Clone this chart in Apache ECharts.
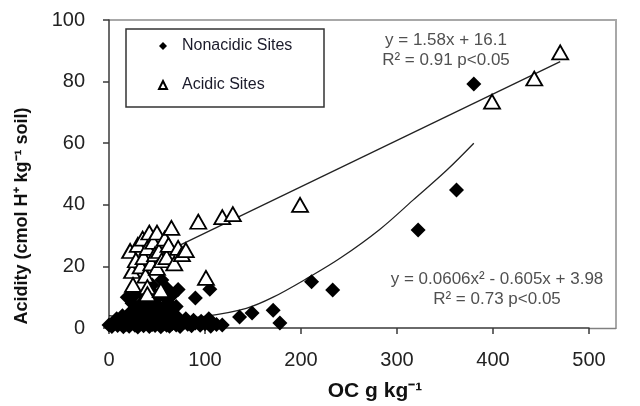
<!DOCTYPE html>
<html>
<head>
<meta charset="utf-8">
<script src="https://cdn.jsdelivr.net/npm/echarts@6/dist/echarts.min.js"></script>
<style>
  html, body { margin: 0; padding: 0; background: #fff; }
  #chart { width: 640px; height: 406px; }
</style>
</head>
<body>
<div id="chart"></div>
<script>
// Organic carbon (g/kg) vs. acidity (cmol H+ /kg soil)

// Nonacidic sites
const nonacidicOC = [
  0, 3, 6, 9, 12, 15, 18, 21, 24, 27, 30, 33, 36, 39, 42, 45, 48, 51, 54, 57, 60, 63, 66, 70, 74, 78, 82, 86, 90, 95, 100, 106, 112,
  8, 14, 18, 22, 26, 30, 34, 38, 42, 46, 50, 54, 58, 62, 66, 70, 74, 80, 88, 96, 104,
  19, 24, 28, 32, 36, 40, 44, 48, 52, 55, 58, 62, 66, 70, 72, 45, 60,
  90, 105, 118, 136, 149, 171, 178, 211, 233, 322, 362, 380
];
const nonacidicAcidity = [
  1.0, 0.5, 1.5, 0.8, 1.8, 0.4, 1.2, 0.6, 1.6, 0.9, 0.3, 1.4, 0.7, 1.9, 0.5, 1.1, 0.8, 1.7, 0.4, 1.3, 0.9, 0.6, 1.5, 1.0, 0.5, 1.8, 1.2, 0.7, 1.6, 0.9, 1.4, 0.6, 1.1,
  3.0, 4.0, 2.5, 5.0, 3.5, 6.0, 4.0, 5.5, 3.0, 6.0, 4.5, 2.8, 5.0, 3.5, 6.0, 4.0, 2.5, 3.0, 2.5, 2.2, 3.0,
  10.0, 8.0, 11.0, 7.5, 10.5, 8.0, 12.0, 9.0, 7.0, 15.6, 10.0, 8.0, 10.7, 7.0, 12.5, 14.0, 13.0,
  9.7, 12.6, 1.0, 3.6, 4.9, 5.8, 1.6, 15.0, 12.3, 31.8, 44.8, 79.2
];

// Acidic sites
const acidicOC = [
  22, 24, 25, 28, 30, 33, 35, 36, 38, 40, 40, 40, 42, 44, 46, 48, 50, 50, 52, 54, 55, 58, 60, 62, 65, 68, 72, 76, 80,
  93, 101, 118, 129, 199, 399, 443, 470
];
const acidicAcidity = [
  25.0, 18.5, 14.0, 22.0, 27.0, 20.0, 29.0, 23.0, 17.0, 13.3, 26.0, 11.0, 31.0, 21.0, 28.0, 24.0, 31.0, 19.5, 25.0, 12.3, 22.0, 29.0, 23.0, 27.0, 32.5, 21.0, 26.0, 24.0, 25.3,
  34.5, 16.3, 36.0, 37.0, 40.0, 73.5, 81.0, 89.5
];

// Fitted trend lines (sampled along each curve)
const linearFitOC = [20, 470];
const linearFitAcidity = [18.8, 86.5];
const quadFitOC = [0, 50, 100, 143, 171, 209, 241, 282, 317, 352, 380];
const quadFitAcidity = [4.0, 2.6, 3.8, 6.4, 10.0, 16.6, 22.7, 32.0, 41.6, 51.3, 60.0];

// Axis ticks
const xTicks = [0, 100, 200, 300, 400, 500];
const yTicks = [0, 20, 40, 60, 80, 100];

// Equation annotations
const linearEquation = ['y = 1.58x + 16.1', 'R² = 0.91 p<0.05'];
const quadEquation = ['y = 0.0606x² - 0.605x + 3.98', 'R² = 0.73 p<0.05'];

const pairs = (xs, ys) => xs.map((x, i) => [x, ys[i]]);

const FONT = '"Liberation Sans", Arial, sans-serif';
const chart = echarts.init(document.getElementById('chart'), null, { renderer: 'canvas' });

chart.setOption({
  animation: false,
  backgroundColor: '#fff',
  grid: { left: 109, right: 51, top: 20, bottom: 78 },
  xAxis: {
    type: 'value',
    min: xTicks[0], max: xTicks[xTicks.length - 1], interval: xTicks[1] - xTicks[0],
    splitLine: { show: false },
    axisLine: { show: true, lineStyle: { color: '#3a3a3a', width: 1.5 } },
    axisTick: { show: true, length: 6, lineStyle: { color: '#3a3a3a', width: 1.5 } },
    axisLabel: { fontFamily: FONT, fontSize: 20, color: '#222', margin: 22 }
  },
  yAxis: {
    type: 'value',
    min: yTicks[0], max: yTicks[yTicks.length - 1], interval: yTicks[1] - yTicks[0],
    splitLine: { show: false },
    axisLine: { show: true, lineStyle: { color: '#3a3a3a', width: 1.5 } },
    axisTick: { show: true, length: 6, lineStyle: { color: '#3a3a3a', width: 1.5 } },
    axisLabel: { fontFamily: FONT, fontSize: 20, color: '#222', margin: 24 }
  },
  legend: {
    orient: 'vertical',
    left: 153, top: 32,
    itemWidth: 8, itemHeight: 8,
    itemGap: 21,
    textStyle: { fontFamily: FONT, fontSize: 16, color: '#1a1a2a', lineHeight: 18, padding: [0, 0, 0, 10] },
    data: ['Nonacidic Sites', 'Acidic Sites']
  },
  series: [
    {
      name: 'linear fit', type: 'line', data: pairs(linearFitOC, linearFitAcidity),
      showSymbol: false, silent: true, z: 1,
      lineStyle: { color: '#222', width: 1.3 }
    },
    {
      name: 'quadratic fit', type: 'line', data: pairs(quadFitOC, quadFitAcidity),
      showSymbol: false, silent: true, smooth: 0.35, z: 1,
      lineStyle: { color: '#222', width: 1.3 }
    },
    {
      name: 'Nonacidic Sites', type: 'scatter', z: 2,
      data: pairs(nonacidicOC, nonacidicAcidity),
      symbol: 'diamond', symbolSize: 15,
      itemStyle: { color: '#000', opacity: 1 }
    },
    {
      name: 'Acidic Sites', type: 'scatter', z: 3,
      data: pairs(acidicOC, acidicAcidity),
      symbol: 'triangle', symbolSize: [16, 14],
      itemStyle: { color: '#fff', borderColor: '#000', borderWidth: 1.8, opacity: 1 }
    }
  ],
  graphic: [
    // frame lines along the top and right of the plot
    { type: 'line', shape: { x1: 109, y1: 20, x2: 616, y2: 20 }, style: { stroke: '#a8a8a8', lineWidth: 2 }, z: 0 },
    { type: 'line', shape: { x1: 616, y1: 19, x2: 616, y2: 329 }, style: { stroke: '#a8a8a8', lineWidth: 2 }, z: 0 },
    { type: 'line', shape: { x1: 589, y1: 328.5, x2: 616, y2: 328.5 }, style: { stroke: '#808080', lineWidth: 1.5 }, z: 0 },
    // legend box
    { type: 'rect', shape: { x: 126, y: 29, width: 198, height: 78 }, style: { fill: 'none', stroke: '#333', lineWidth: 1.5 }, z: 0 },
    // equations
    { type: 'text', x: 446, y: 40, style: { text: linearEquation[0], font: '17px ' + FONT, fill: '#505050', align: 'center', verticalAlign: 'middle' } },
    { type: 'text', x: 446, y: 60, style: { text: linearEquation[1], font: '17px ' + FONT, fill: '#505050', align: 'center', verticalAlign: 'middle' } },
    { type: 'text', x: 497, y: 279, style: { text: quadEquation[0], font: '17px ' + FONT, fill: '#505050', align: 'center', verticalAlign: 'middle' } },
    { type: 'text', x: 497, y: 299, style: { text: quadEquation[1], font: '17px ' + FONT, fill: '#505050', align: 'center', verticalAlign: 'middle' } },
    // axis titles
    { type: 'text', x: 375, y: 391, style: { text: 'OC g kg⁻¹', font: 'bold 21px ' + FONT, fill: '#111', align: 'center', verticalAlign: 'middle' } },
    { type: 'text', x: 22, y: 216, rotation: Math.PI / 2, style: { text: 'Acidity (cmol H⁺ kg⁻¹ soil)', font: 'bold 18px ' + FONT, fill: '#111', align: 'center', verticalAlign: 'middle' } }
  ]
});
</script>
</body>
</html>
